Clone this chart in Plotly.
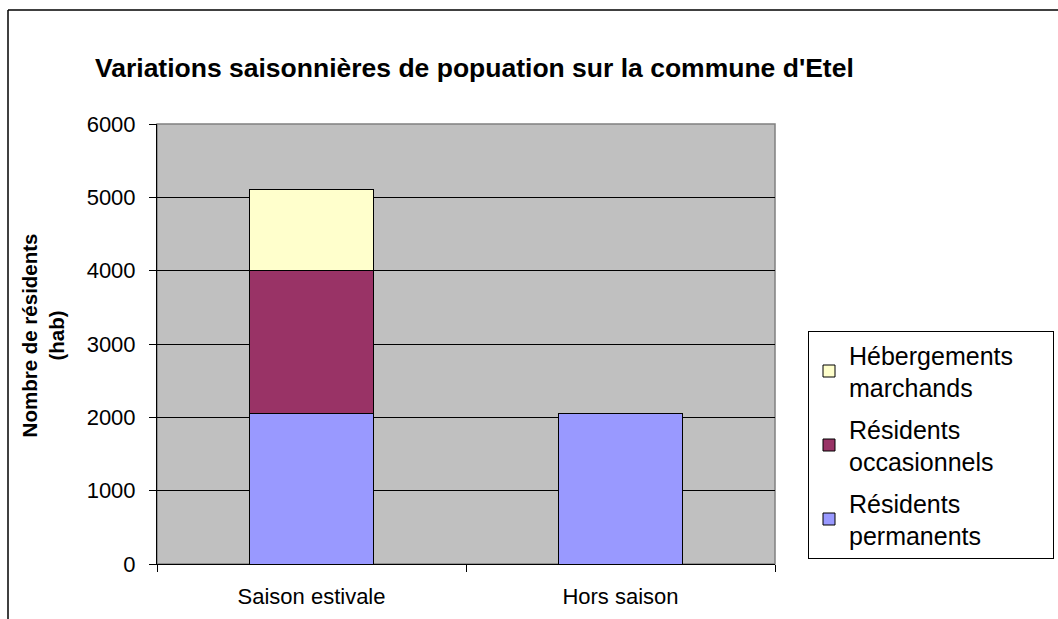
import plotly.graph_objects as go

# Population by season (inhabitants)
categories = ["Saison estivale", "Hors saison"]
residents_permanents = [2055, 2055]
residents_occasionnels = [1945, 0]
hebergements_marchands = [1110, 0]

NBSP = "\u00a0"

# (legend label, values, colour, legend rank)
series = [
    ("Résidents<br>permanents", residents_permanents, "#9999FF", 3),
    ("Résidents<br>occasionnels", residents_occasionnels, "#993366", 2),
    ("Hébergements" + NBSP * 5 + "<br>marchands", hebergements_marchands, "#FFFFCC", 1),
]

FONT = "Liberation Sans, Arial, sans-serif"

fig = go.Figure()
for i, (name, vals, color, rank) in enumerate(series):
    fig.add_trace(go.Bar(
        x=categories, y=vals, name=name, legendgroup=f"g{i}", legendrank=rank,
        marker=dict(color=color, line=dict(color="black", width=1)),
        width=0.4,
    ))

# figure geometry (pixels)
W, H = 1058, 619
L, R, T, B = 157, 775, 124, 564
pw, ph = R - L, B - T

def px(x):
    return (x - L) / pw

def py(y):
    return (B - y) / ph

fig.update_layout(
    width=W, height=H,
    margin=dict(l=L, r=W - R, t=T, b=H - B, pad=0, autoexpand=False),
    barmode="stack",
    bargap=0.6,
    paper_bgcolor="white",
    plot_bgcolor="#C0C0C0",
    font=dict(family=FONT, color="black", size=22),
    title=dict(
        text="<b>Variations saisonnières de popuation sur la commune d'Etel</b>",
        x=95 / W, xanchor="left", xref="container",
        y=(H - 68) / H, yanchor="middle", yref="container",
        font=dict(family=FONT, size=26.5, color="black"),
    ),
    showlegend=True,
    legend=dict(
        x=808 / W, xanchor="left", xref="container",
        y=(H - 331) / H, yanchor="top", yref="container",
        traceorder="grouped", tracegroupgap=6,
        bordercolor="black", borderwidth=1, bgcolor="white",
        font=dict(family=FONT, size=25, color="black"),
    ),
    xaxis=dict(
        type="category", showgrid=False, zeroline=False, automargin=False,
        showline=True, linecolor="black", linewidth=1,
        ticks="outside", tickson="boundaries", ticklen=7, tickcolor="black",
        tickfont=dict(family=FONT, size=22), ticklabelstandoff=13,
        range=[-0.5, 1.5],
    ),
    yaxis=dict(
        range=[0, 6000], tickvals=[0, 1000, 2000, 3000, 4000, 5000, 6000],
        showgrid=True, gridcolor="black", gridwidth=1, zeroline=False,
        automargin=False,
        showline=True, linecolor="black", linewidth=1,
        ticks="outside", ticklen=7, tickcolor="black",
        tickfont=dict(family=FONT, size=22), ticklabelstandoff=9,
        title=dict(text="<b>" + NBSP * 3 + "Nombre de résidents<br>" + NBSP * 3 + "(hab)</b>",
                   font=dict(family=FONT, size=20.5), standoff=16),
    ),
    shapes=[
        # plot-area frame
        dict(type="rect", xref="paper", yref="paper", x0=0, x1=1, y0=0, y1=1,
             line=dict(color="#808080", width=1.5), layer="below"),
        # outer chart border (left and top edges)
        dict(type="line", xref="paper", yref="paper",
             x0=px(8), x1=px(8), y0=py(10), y1=py(H + 10),
             line=dict(color="black", width=1.5)),
        dict(type="line", xref="paper", yref="paper",
             x0=px(8), x1=px(W + 10), y0=py(10), y1=py(10),
             line=dict(color="black", width=1.5)),
    ],
)

fig.write_html("out.html")
